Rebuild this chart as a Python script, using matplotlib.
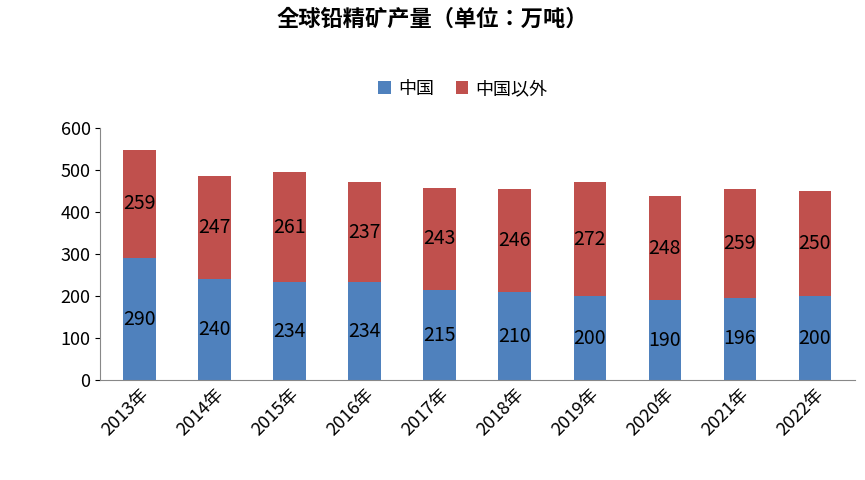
import matplotlib
matplotlib.use("Agg")
import matplotlib.pyplot as plt

years = ["2013年","2014年","2015年","2016年","2017年","2018年","2019年","2020年","2021年","2022年"]
china = [290,240,234,234,215,210,200,190,196,200]
other = [259,247,261,237,243,246,272,248,259,250]

plt.rcParams["font.family"] = ["sans-serif"]
plt.rcParams["font.sans-serif"] = ["Noto Sans CJK SC","Noto Sans CJK JP","Noto Sans CJK TC","DejaVu Sans"]
fig = plt.figure(figsize=(8.65,4.8), dpi=100)
ax = fig.add_axes([0.116,0.208,0.872,0.525])
x = range(len(years))
ax.bar(x, china, width=0.43, color="#4F81BD", label="中国")
ax.bar(x, other, width=0.43, bottom=china, color="#C0504D", label="中国以外")
for i in x:
    ax.text(i, china[i]/2, str(china[i]), ha="center", va="center", fontsize=14)
    ax.text(i, china[i]+other[i]/2, str(other[i]), ha="center", va="center", fontsize=14)
ax.set_xlim(-0.52, 9.53)
ax.set_ylim(0,600)
ax.set_yticks(range(0,601,100))
ax.set_xticks(list(x))
ax.set_xticklabels(years, rotation=45, ha="right", rotation_mode="anchor", fontsize=13)
ax.tick_params(axis="y", labelsize=13)
ax.tick_params(axis="x", length=0)
for s in ["top","right"]:
    ax.spines[s].set_visible(False)
ax.spines["left"].set_color("#888888")
ax.spines["bottom"].set_color("#888888")
fig.text(0.5, 0.96, "全球铅精矿产量（单位：万吨）", ha="center", va="center", fontsize=16, fontweight="bold")
fig.legend(loc="center", bbox_to_anchor=(0.535,0.815), ncol=2, frameon=False, fontsize=13,
           handlelength=0.7, handleheight=0.7, columnspacing=1.2, handletextpad=0.4)
fig.savefig("out.png", dpi=100)
